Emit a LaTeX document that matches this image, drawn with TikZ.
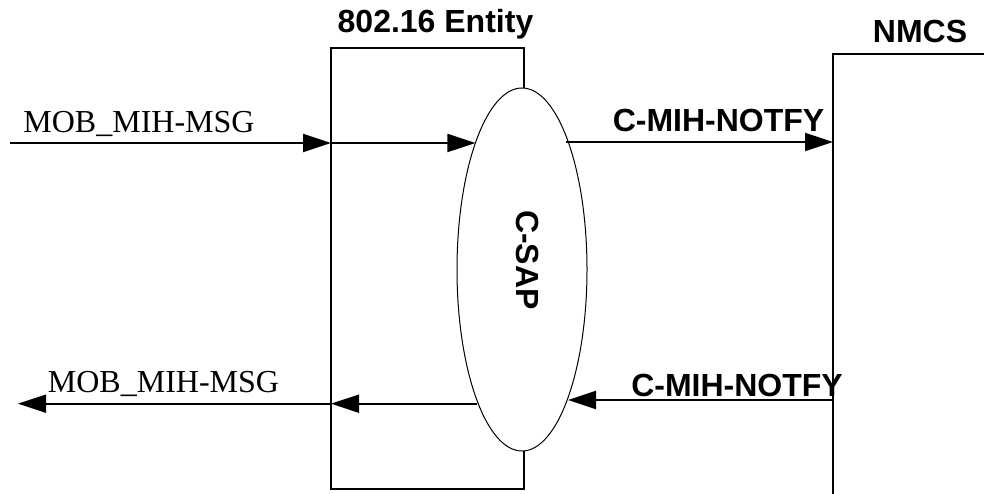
\documentclass[tikz,border=0pt]{standalone}
\usepackage{fontspec}
\setmainfont{Liberation Serif}
\setsansfont{Liberation Sans}
\usetikzlibrary{arrows.meta,shapes.geometric}
\begin{document}
\begin{tikzpicture}[x=1pt,y=-1pt,
  frame/.style={line width=2pt},
  arr/.style={line width=2pt,-{Triangle[length=28pt,width=18pt]}},
  seriflabel/.style={font=\fontsize{32}{32}\selectfont, inner sep=0pt, anchor=base},
  boldlabel/.style={font=\sffamily\bfseries\fontsize{32}{32}\selectfont, inner sep=0pt, anchor=base}]
\useasboundingbox (0,0) rectangle (984,494);
% 802.16 entity box
\draw[frame] (524,88) -- (524,48) -- (331,48) -- (331,489) -- (524,489) -- (524,451);
% C-SAP ellipse
\node[draw, ellipse, fill=white, line width=1pt, minimum width=130pt, minimum height=363pt, inner sep=0pt] (csap) at (522,269.5) {};
\node[boldlabel, anchor=center, rotate=-90] (csaplabel) at (528,260) {C-SAP};
% NMCS
\draw[frame] (984,54) -- (833,54) -- (833,494);
% coordinates
\coordinate (inL) at (10,143);
\coordinate (entTop) at (331,143);
\coordinate (csapTL) at (475.4,143);
\coordinate (csapTR) at (566,142);
\coordinate (nmcsTop) at (833,142);
\coordinate (outL) at (18,403.7);
\coordinate (entBot) at (331,403.7);
\coordinate (csapBL) at (477,403.7);
\coordinate (csapBR) at (568,400);
\coordinate (nmcsBot) at (833,400);
% arrows
\draw[arr] (inL) -- (entTop);
\draw[arr] (entTop) -- (csapTL);
\draw[arr] (csapTR) -- (nmcsTop);
\draw[arr] (entBot) -- (outL);
\draw[arr] (csapBL) -- (entBot);
\draw[arr] (nmcsBot) -- (csapBR);
% labels
\node[boldlabel] (entlabel) at (435.5,33) {802.16 Entity};
\node[boldlabel] (nmcslabel) at (920,43) {NMCS};
\node[seriflabel] (mobin) at (139,133) {MOB\_MIH-MSG};
\node[seriflabel] (mobout) at (163.5,392) {MOB\_MIH-MSG};
\node[boldlabel] (notin) at (718.5,132) {C-MIH-NOTFY};
\node[boldlabel] (notout) at (737,396) {C-MIH-NOTFY};
\end{tikzpicture}
\end{document}
